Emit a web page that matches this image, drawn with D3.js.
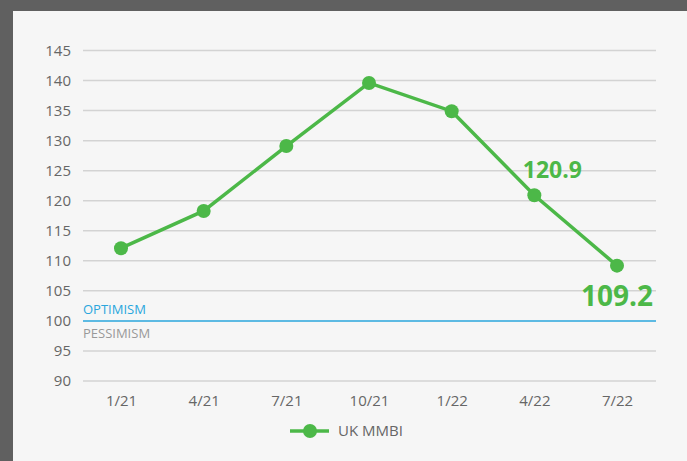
<!DOCTYPE html>
<meta charset="utf-8">
<head>
<style>
  body { margin: 0; background: #606060; }
  svg { display: block; }
  .tick text { font-family: "Open Sans", sans-serif; font-size: 15px; fill: #666; }
</style>
</head>
<body>
<script src="https://d3js.org/d3.v7.min.js"></script>
<script>
  var periods = ["1/21", "4/21", "7/21", "10/21", "1/22", "4/22", "7/22"];
  var mmbi = [112.1, 118.3, 129.1, 139.6, 134.9, 120.9, 109.2];
  var yTicks = [90, 95, 100, 105, 110, 115, 120, 125, 130, 135, 140, 145];

  var W = 687, H = 461, green = "#4cb848";

  var svg = d3.select("body").append("svg")
      .attr("width", W).attr("height", H);

  // light panel inside the dark frame
  svg.append("rect").attr("x", 13).attr("y", 11)
      .attr("width", W - 13).attr("height", H - 11)
      .attr("fill", "#f6f6f6");

  var x = d3.scalePoint().domain(periods).range([121, 617]);
  var y = d3.scaleLinear().domain([90, 145]).range([381, 50.5]);

  // gridlines
  svg.append("g").selectAll("line")
      .data(yTicks.filter(function (d) { return d !== 100; }))
      .enter().append("line")
      .attr("x1", 83).attr("x2", 656)
      .attr("y1", function (d) { return y(d); })
      .attr("y2", function (d) { return y(d); })
      .attr("stroke", "#d3d3d3").attr("stroke-width", 1.5);

  // y axis labels
  var yAxis = svg.append("g").attr("transform", "translate(71,0)")
      .call(d3.axisLeft(y).tickValues(yTicks).tickSize(0).tickPadding(0));
  yAxis.select(".domain").remove();

  // x axis labels
  var xAxis = svg.append("g").attr("transform", "translate(0,395)")
      .call(d3.axisBottom(x).tickSize(0).tickPadding(0));
  xAxis.select(".domain").remove();
  xAxis.selectAll("text").attr("dy", "0.71em");

  // 100 reference line
  svg.append("line").attr("x1", 83).attr("x2", 656)
      .attr("y1", y(100)).attr("y2", y(100))
      .attr("stroke", "#2aa6dd").attr("stroke-width", 1.5);
  svg.append("text").attr("x", 83).attr("y", y(100) - 7)
      .attr("font-family", "Open Sans, sans-serif").attr("font-size", 13)
      .attr("fill", "#2aa6dd").text("OPTIMISM");
  svg.append("text").attr("x", 83).attr("y", y(100) + 17)
      .attr("font-family", "Open Sans, sans-serif").attr("font-size", 13)
      .attr("fill", "#999").text("PESSIMISM");

  // series
  var line = d3.line()
      .x(function (d, i) { return x(periods[i]); })
      .y(function (d) { return y(d); });
  svg.append("path").datum(mmbi).attr("d", line)
      .attr("fill", "none").attr("stroke", green).attr("stroke-width", 3.5);
  svg.append("g").selectAll("circle").data(mmbi).enter().append("circle")
      .attr("cx", function (d, i) { return x(periods[i]); })
      .attr("cy", function (d) { return y(d); })
      .attr("r", 7).attr("fill", green);

  // value labels
  svg.append("text").attr("x", x("4/22") + 18).attr("y", y(120.9) - 17)
      .attr("text-anchor", "middle").attr("font-family", "Open Sans, sans-serif")
      .attr("font-weight", "bold").attr("font-size", 23).attr("fill", green)
      .text(mmbi[5].toFixed(1));
  svg.append("text").attr("x", x("7/22")).attr("y", y(109.2) + 40)
      .attr("text-anchor", "middle").attr("font-family", "Open Sans, sans-serif")
      .attr("font-weight", "bold").attr("font-size", 28).attr("fill", green)
      .text(mmbi[6].toFixed(1));

  // legend
  var lg = svg.append("g").attr("transform", "translate(290,431)");
  lg.append("line").attr("x1", 0).attr("x2", 39)
      .attr("stroke", green).attr("stroke-width", 3.5);
  lg.append("circle").attr("cx", 20).attr("r", 7).attr("fill", green);
  lg.append("text").attr("x", 48).attr("dy", "0.35em")
      .attr("font-family", "Open Sans, sans-serif").attr("font-size", 15)
      .attr("fill", "#666").text("UK MMBI");
</script>
</body>
